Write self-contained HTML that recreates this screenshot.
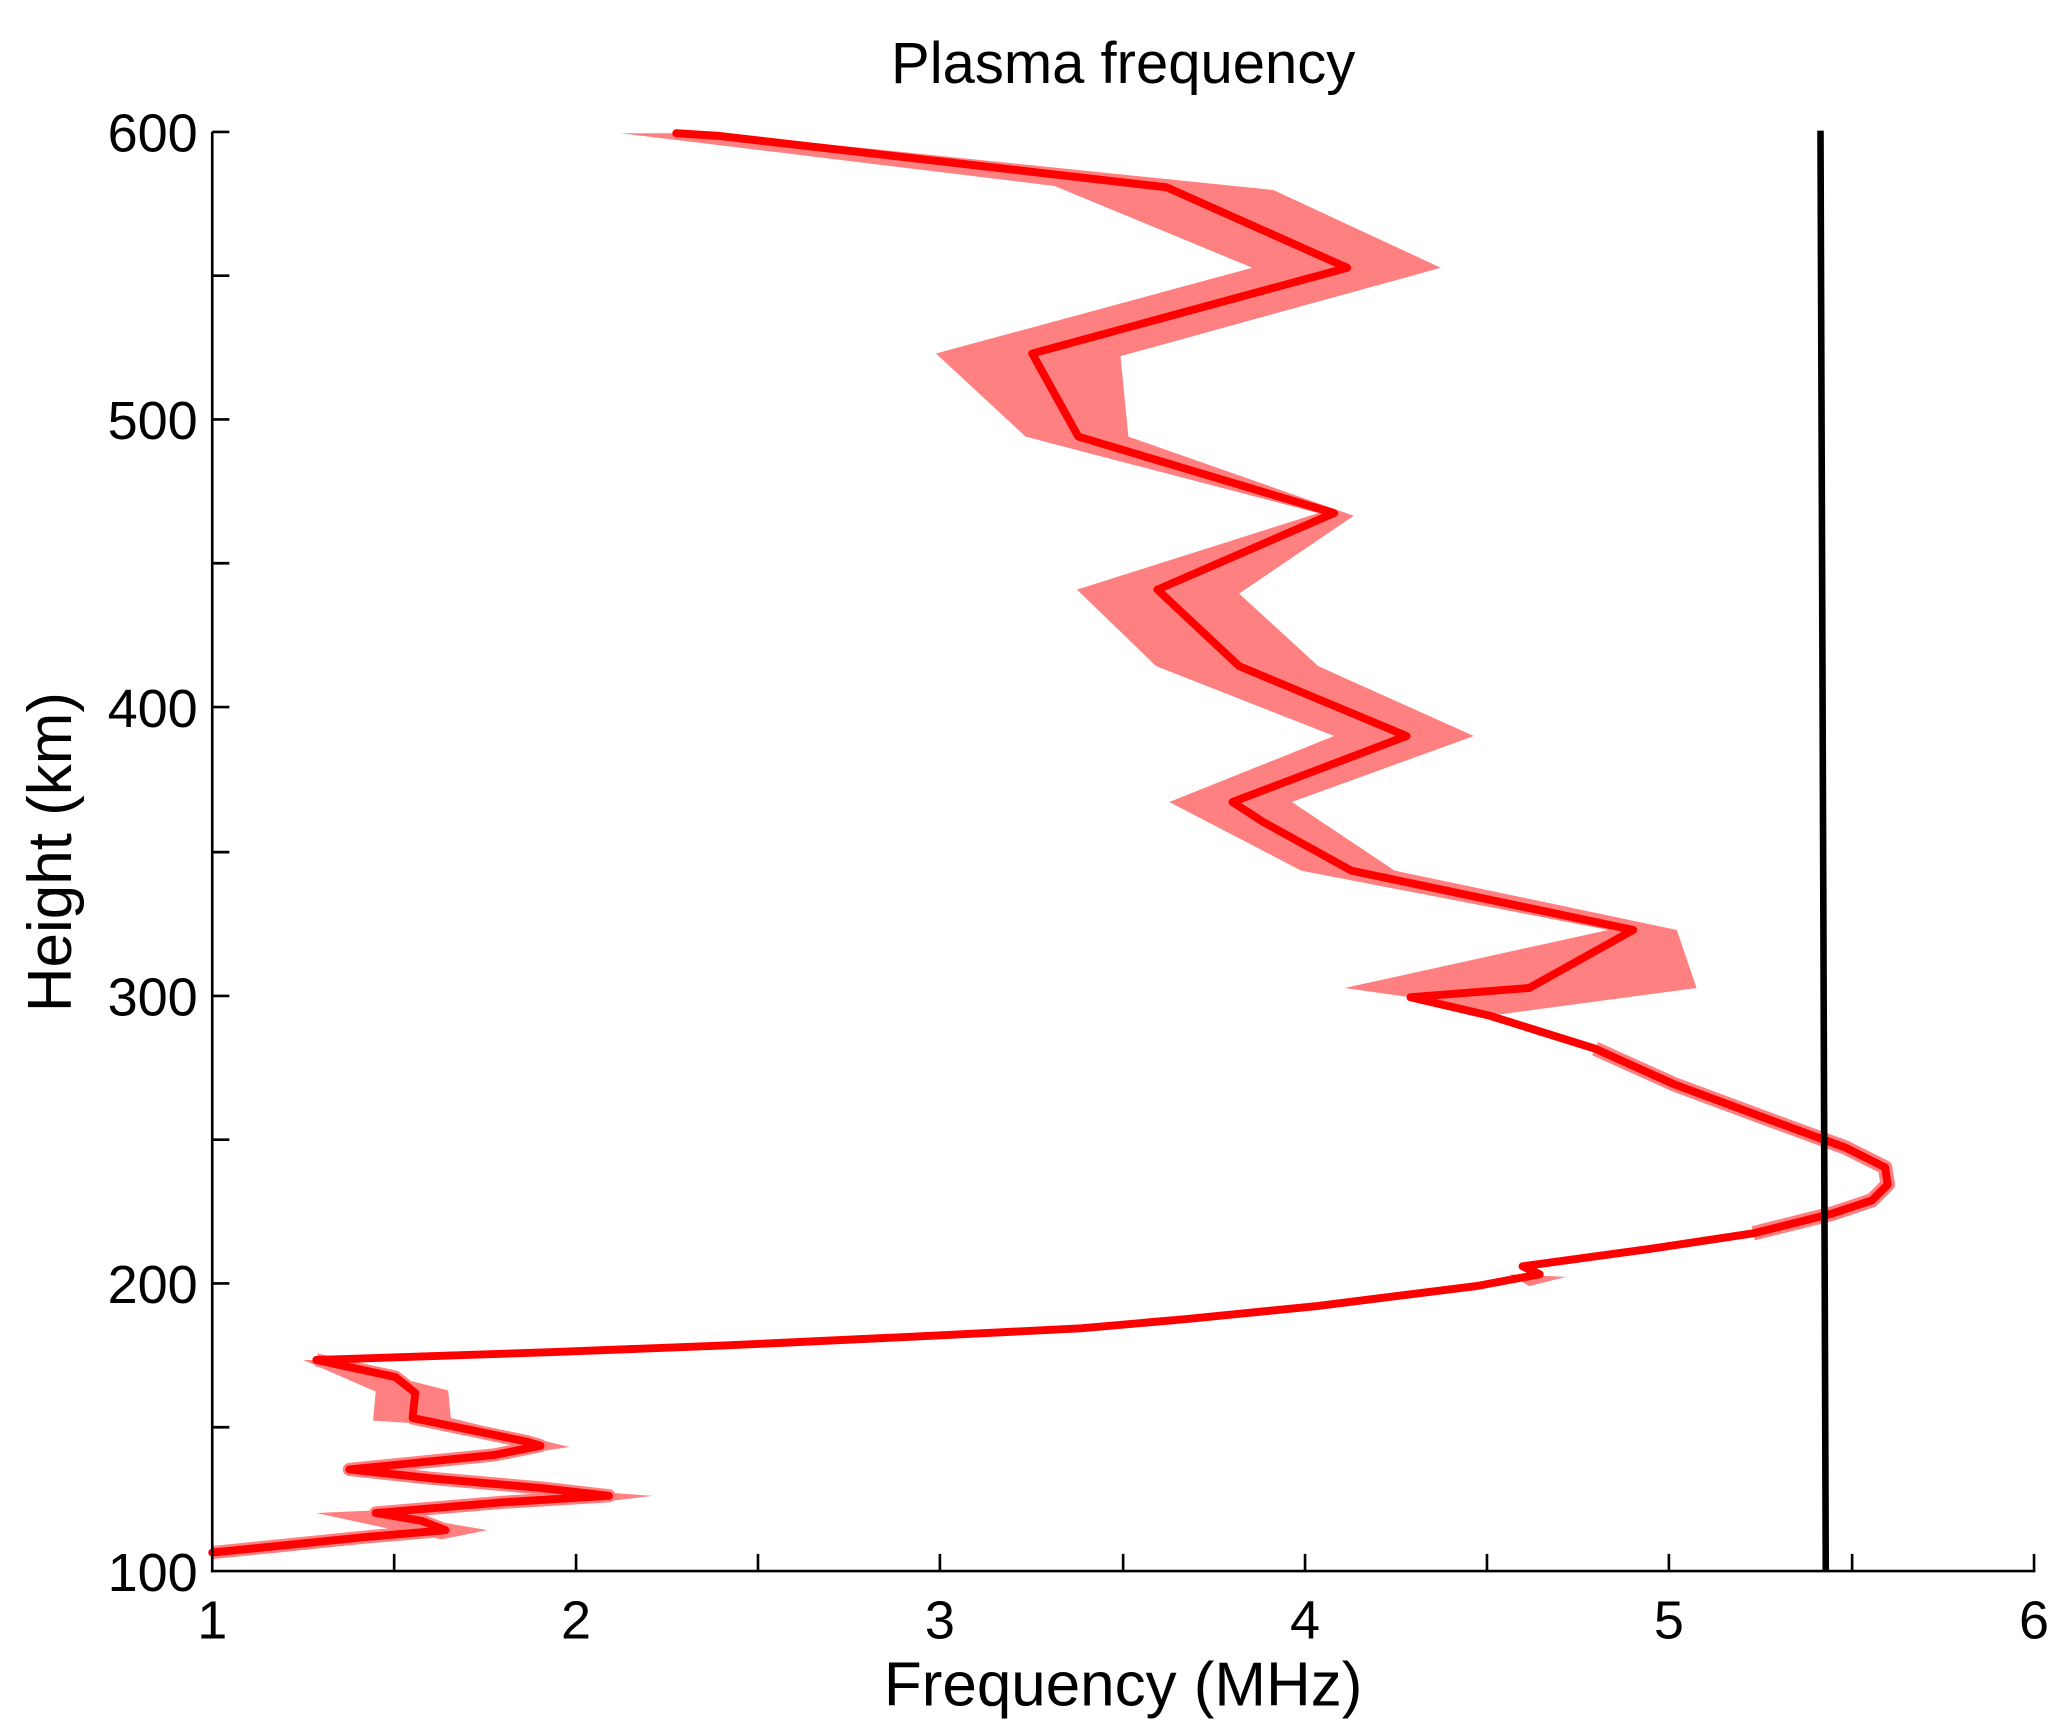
<!DOCTYPE html>
<html><head><style>html,body{margin:0;padding:0;background:#fff}svg{display:block}</style></head>
<body>
<svg width="2067" height="1728" viewBox="0 0 1568 1310" preserveAspectRatio="none" xmlns="http://www.w3.org/2000/svg" font-family="Liberation Sans, sans-serif">
<rect width="1568" height="1310" fill="#fff"/>
<polygon fill="#ff8080" points="471,101 545,101 966,144 1093,203 850,270 856,331 1027,391 940,450 1000,505 1118,558 980,608 1058,660 1272,705 1287,749 1130,770 1070,756 1020,749 1220,705 987,660 887,608 1012,558 877,505 817,447 1000,389 778,331 710,268 950,203 800,141"/>
<polygon fill="#ff8080" points="1145,966 1188,968 1160,975"/>
<polygon fill="#ff8080" points="230,1031 252,1031 300,1044 340,1054 342,1075 432,1097 405,1101 380,1103 395,1094 313,1079 283,1077 285,1055"/>
<polygon fill="#ff8080" points="410,1128 495,1134 462,1138"/>
<polygon fill="#ff8080" points="240,1147 285,1145 340,1155 370,1160 335,1167 300,1160"/>
<polyline fill="none" stroke="#ff8080" stroke-width="11" stroke-linejoin="round" points="1210,795 1270,822 1340,848 1400,870 1430,885 1432,898 1420,910 1390,920 1330,935"/>
<polyline fill="none" stroke="#ff8080" stroke-width="10" stroke-linejoin="round" points="240,1031 300,1044 315,1056 313,1075 400,1093 410,1096 375,1103 265,1114 330,1121 410,1128 462,1134 380,1139 285,1147 320,1153 338,1160 280,1165 161,1177"/>
<polyline fill="none" stroke="#ff0000" stroke-width="6" stroke-linejoin="round" stroke-linecap="round" points="513,101 545,103 885,142 1022,203 783,268 818,331 1012,389 878,447 940,505 1067,558 935,608 958,623 1025,660 1239,705 1160,749 1070,756 1130,770 1210,795 1270,822 1340,848 1400,870 1430,885 1432,898 1420,910 1390,920 1330,935 1250,947 1155,960 1168,966 1120,975 1000,990 900,1000 820,1007 700,1013 550,1020 420,1025 240,1031 300,1044 315,1056 313,1075 400,1093 410,1096 375,1103 265,1114 330,1121 410,1128 462,1134 380,1139 285,1147 320,1153 338,1160 280,1165 161,1177"/>
<line x1="1381" y1="99" x2="1385" y2="1191" stroke="#000" stroke-width="5"/>
<g stroke="#000" stroke-width="2">
<line x1="161" y1="100" x2="161" y2="1192"/>
<line x1="160" y1="1191" x2="1544" y2="1191"/>
<line x1="299" y1="1191" x2="299" y2="1178"/><line x1="437" y1="1191" x2="437" y2="1178"/>
<line x1="575" y1="1191" x2="575" y2="1178"/><line x1="713" y1="1191" x2="713" y2="1178"/>
<line x1="852" y1="1191" x2="852" y2="1178"/><line x1="990" y1="1191" x2="990" y2="1178"/>
<line x1="1128" y1="1191" x2="1128" y2="1178"/><line x1="1266" y1="1191" x2="1266" y2="1178"/>
<line x1="1405" y1="1191" x2="1405" y2="1178"/><line x1="1543" y1="1191" x2="1543" y2="1178"/>
<line x1="161" y1="100" x2="174" y2="100"/><line x1="161" y1="209" x2="174" y2="209"/>
<line x1="161" y1="318" x2="174" y2="318"/><line x1="161" y1="427" x2="174" y2="427"/>
<line x1="161" y1="536" x2="174" y2="536"/><line x1="161" y1="646" x2="174" y2="646"/>
<line x1="161" y1="755" x2="174" y2="755"/><line x1="161" y1="864" x2="174" y2="864"/>
<line x1="161" y1="973" x2="174" y2="973"/><line x1="161" y1="1082" x2="174" y2="1082"/>
</g>
<g font-size="41" fill="#000" text-anchor="end">
<text x="150" y="115">600</text><text x="150" y="333">500</text><text x="150" y="551">400</text>
<text x="150" y="770">300</text><text x="150" y="988">200</text><text x="150" y="1206">100</text>
</g>
<g font-size="41" fill="#000" text-anchor="middle">
<text x="161" y="1242">1</text><text x="437" y="1242">2</text><text x="713" y="1242">3</text>
<text x="990" y="1242">4</text><text x="1266" y="1242">5</text><text x="1543" y="1242">6</text>
</g>
<text x="852" y="1293" font-size="47" text-anchor="middle">Frequency (MHz)</text>
<text x="852" y="63" font-size="44" text-anchor="middle">Plasma frequency</text>
<text transform="translate(54,646) rotate(-90)" font-size="47" text-anchor="middle">Height (km)</text>
</svg>
</body></html>
